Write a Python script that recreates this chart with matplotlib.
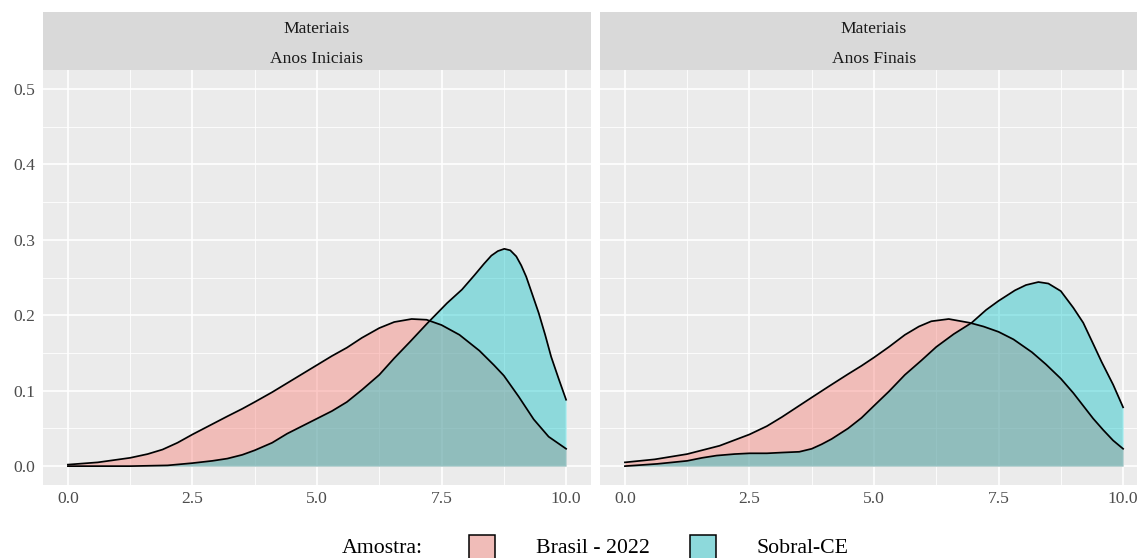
import matplotlib.pyplot as plt
from matplotlib.patches import Rectangle

plt.rcParams['font.family'] = ['Liberation Serif', 'DejaVu Serif']

# density estimates of the "Materiais" scores, by stage and sample
ini_brasil_x = [0.0, 0.6, 1.25, 1.6, 1.9, 2.2, 2.5, 2.85, 3.2, 3.5, 3.75, 4.1, 4.4,
                4.7, 5.0, 5.3, 5.6, 5.9, 6.25, 6.55, 6.9, 7.2, 7.5, 7.86, 8.26,
                8.55, 8.75, 9.05, 9.35, 9.65, 10.0]
ini_brasil_y = [0.002, 0.005, 0.011, 0.016, 0.022, 0.031, 0.042, 0.054, 0.066,
                0.076, 0.085, 0.098, 0.110, 0.122, 0.134, 0.146, 0.157, 0.170,
                0.183, 0.191, 0.195, 0.194, 0.187, 0.174, 0.153, 0.134, 0.120,
                0.092, 0.062, 0.039, 0.023]
ini_sobral_x = [0.0, 1.25, 2.0, 2.5, 2.9, 3.2, 3.5, 3.75, 4.1, 4.4, 4.7, 5.0, 5.3,
                5.6, 5.9, 6.25, 6.55, 6.87, 7.21, 7.61, 7.91, 8.16, 8.35, 8.5,
                8.63, 8.76, 8.88, 9.0, 9.1, 9.2, 9.32, 9.45, 9.58, 9.7, 9.85, 10.0]
ini_sobral_y = [0.0, 0.0, 0.001, 0.004, 0.007, 0.010, 0.015, 0.021, 0.031, 0.043,
                0.053, 0.063, 0.073, 0.085, 0.101, 0.121, 0.143, 0.165, 0.189,
                0.216, 0.234, 0.253, 0.268, 0.279, 0.285, 0.288, 0.286, 0.278,
                0.266, 0.251, 0.228, 0.203, 0.174, 0.145, 0.116, 0.088]

fin_brasil_x = [0.0, 0.6, 1.25, 1.9, 2.5, 2.85, 3.15, 3.45, 3.75, 4.1, 4.48, 4.75,
                5.0, 5.3, 5.62, 5.9, 6.15, 6.5, 6.92, 7.2, 7.5, 7.8, 8.17, 8.45,
                8.75, 9.0, 9.2, 9.4, 9.6, 9.8, 10.0]
fin_brasil_y = [0.005, 0.009, 0.016, 0.027, 0.042, 0.053, 0.065, 0.078, 0.091,
                0.106, 0.122, 0.133, 0.144, 0.158, 0.174, 0.185, 0.192, 0.195,
                0.190, 0.185, 0.178, 0.168, 0.151, 0.135, 0.116, 0.097, 0.080,
                0.063, 0.048, 0.034, 0.023]
fin_sobral_x = [0.0, 0.65, 1.25, 1.55, 1.84, 2.2, 2.5, 2.85, 3.15, 3.5, 3.75, 3.95,
                4.15, 4.48, 4.75, 5.0, 5.3, 5.62, 5.95, 6.25, 6.6, 6.96, 7.25,
                7.5, 7.83, 8.05, 8.3, 8.5, 8.75, 9.0, 9.2, 9.4, 9.57, 9.8, 10.0]
fin_sobral_y = [0.0, 0.003, 0.007, 0.011, 0.014, 0.016, 0.017, 0.017, 0.018,
                0.019, 0.023, 0.029, 0.036, 0.050, 0.064, 0.080, 0.099, 0.121,
                0.140, 0.158, 0.175, 0.190, 0.207, 0.219, 0.233, 0.240, 0.244,
                0.242, 0.232, 0.210, 0.190, 0.162, 0.138, 0.108, 0.078]

x_ticks = [0.0, 2.5, 5.0, 7.5, 10.0]
x_labels = ['0.0', '2.5', '5.0', '7.5', '10.0']
x_minor = [1.25, 3.75, 6.25, 8.75]
y_ticks = [0.0, 0.1, 0.2, 0.3, 0.4, 0.5]
y_labels = ['0.0', '0.1', '0.2', '0.3', '0.4', '0.5']
y_minor = [0.05, 0.15, 0.25, 0.35, 0.45]

groups = ['Brasil - 2022', 'Sobral-CE']
colors = ['#F8766D', '#00BFC4']

W, H = 1137, 558
fig = plt.figure(figsize=(W / 100, H / 100), dpi=100)


def px_axes(left, top, right, bottom):
    return fig.add_axes([left / W, (H - bottom) / H, (right - left) / W, (bottom - top) / H])


def draw_panel(left, right, title, curves, show_y):
    ax = px_axes(left, 70, right, 485)
    ax.set_facecolor('#EBEBEB')
    for s in ax.spines.values():
        s.set_visible(False)
    ax.set_xlim(-0.5, 10.5)
    ax.set_ylim(-0.025, 0.525)
    ax.set_xticks(x_ticks, x_labels)
    ax.set_xticks(x_minor, minor=True)
    ax.set_yticks(y_ticks, y_labels)
    ax.set_yticks(y_minor, minor=True)
    ax.grid(which='major', color='white', lw=1.2)
    ax.grid(which='minor', color='white', lw=0.6)
    ax.set_axisbelow(True)
    ax.tick_params(which='both', length=0, labelsize=12.6, labelcolor='#4D4D4D')
    ax.tick_params(axis='x', pad=4.5)
    ax.tick_params(axis='y', pad=5.5, labelleft=show_y)

    for (xs, ys), c in zip(curves, colors):
        ax.fill_between(xs, ys, 0, color=c, alpha=0.4, lw=0)
        ax.plot(xs, ys, color='black', lw=1.25, solid_joinstyle='round')

    # facet strip
    st = px_axes(left, 12, right, 70)
    st.set_facecolor('#D9D9D9')
    st.set_xticks([])
    st.set_yticks([])
    for s in st.spines.values():
        s.set_visible(False)
    st.text(0.5, 37 / 58, 'Materiais', ha='center', va='baseline',
            fontsize=12.6, color='#1A1A1A', transform=st.transAxes)
    st.text(0.5, 7 / 58, title, ha='center', va='baseline',
            fontsize=12.6, color='#1A1A1A', transform=st.transAxes)
    return ax


draw_panel(43, 591, 'Anos Iniciais',
           [(ini_brasil_x, ini_brasil_y), (ini_sobral_x, ini_sobral_y)], True)
draw_panel(600, 1148, 'Anos Finais',
           [(fin_brasil_x, fin_brasil_y), (fin_sobral_x, fin_sobral_y)], False)

# legend along the bottom
base = (H - 553) / H
fig.text(342 / W, base, 'Amostra:', fontsize=15.7, ha='left', va='baseline')
key_h = (H - 535 + 10) / H
for key_left, text_left, label, c in zip([469, 690], [536, 757], groups, colors):
    for fc, ec, a in [('#EBEBEB', 'none', 1.0), (c, 'none', 0.4), ('none', 'black', 1.0)]:
        fig.patches.append(Rectangle((key_left / W, -10 / H), 26 / W, key_h,
                                     transform=fig.transFigure, facecolor=fc,
                                     edgecolor=ec, alpha=a, lw=1.1))
    fig.text(text_left / W, base, label, fontsize=15.7, ha='left', va='baseline')

fig.savefig('out.png', dpi=100)
